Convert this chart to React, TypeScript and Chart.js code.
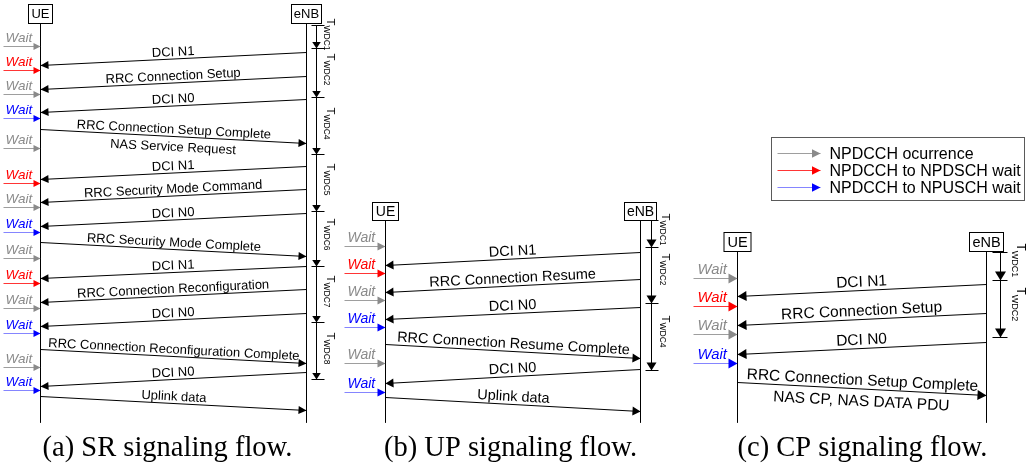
import { useEffect, useRef } from 'react';
import { Chart, registerables } from 'chart.js';

Chart.register(...registerables);

const W = 1032;
const H = 468;

// ---------------- (a) SR signaling flow ----------------
const srMsgLabels = ['DCI N1', 'RRC Connection Setup', 'DCI N0', 'RRC Connection Setup Complete', 'DCI N1', 'RRC Security Mode Command', 'DCI N0', 'RRC Security Mode Complete', 'DCI N1', 'RRC Connection Reconfiguration', 'DCI N0', 'RRC Connection Reconfiguration Complete', 'DCI N0', 'Uplink data'];
const srMsgSub = ['', '', '', 'NAS Service Request', '', '', '', '', '', '', '', '', '', ''];
const srMsgUplink = [0, 0, 0, 1, 0, 0, 0, 1, 0, 0, 0, 1, 0, 1];
const srMsgEnbT = [52, 76, 99, 143, 166, 189, 213, 256, 266, 289, 313, 363, 372, 410];
const srMsgUeT = [65, 89, 112, 129, 179, 202, 226, 242, 278, 302, 326, 349, 386, 396];
const srWaitT = [46, 70, 94, 118, 148, 183, 207, 232, 258, 283, 308, 333, 367, 390];
const srWaitKind = [0, 1, 0, 2, 0, 1, 0, 2, 0, 1, 0, 2, 0, 2];
const srTimerT = [25, 48, 97, 154, 211, 266, 322, 379];
const srTimerNames = ['WDC1', 'WDC2', 'WDC4', 'WDC5', 'WDC6', 'WDC7', 'WDC8'];
const srTimerLabelT = [18, 53, 107, 163, 218, 275, 332];

// ---------------- (b) UP signaling flow ----------------
const upMsgLabels = ['DCI N1', 'RRC Connection Resume', 'DCI N0', 'RRC Connection Resume Complete', 'DCI N0', 'Uplink data'];
const upMsgSub = ['', '', '', '', '', ''];
const upMsgUplink = [0, 0, 0, 1, 0, 1];
const upMsgEnbT = [252, 279, 307, 358, 369, 411];
const upMsgUeT = [265, 292, 319, 344, 383, 397];
const upWaitT = [246, 273, 300, 327, 363, 392];
const upWaitKind = [0, 1, 0, 2, 0, 2];
const upTimerT = [220, 247, 303, 370];
const upTimerNames = ['WDC1', 'WDC2', 'WDC4'];
const upTimerLabelT = [213, 253, 315];

// ---------------- (c) CP signaling flow ----------------
const cpMsgLabels = ['DCI N1', 'RRC Connection Setup', 'DCI N0', 'RRC Connection Setup Complete'];
const cpMsgSub = ['', '', '', 'NAS CP, NAS DATA PDU'];
const cpMsgUplink = [0, 0, 0, 1];
const cpMsgEnbT = [284, 313, 342, 395];
const cpMsgUeT = [296, 325, 354, 382];
const cpWaitT = [278, 306, 334, 363];
const cpWaitKind = [0, 1, 0, 2];
const cpTimerT = [252, 280, 337];
const cpTimerNames = ['WDC1', 'WDC2'];
const cpTimerLabelT = [243, 287];

// ---------------- legend / captions ----------------
const legendLabels = ['NPDCCH ocurrence', 'NPDCCH to NPDSCH wait', 'NPDCCH to NPUSCH wait'];
const captions = ['(a) SR signaling flow.', '(b) UP signaling flow.', '(c) CP signaling flow.'];
const entityNames = ['UE', 'eNB'];
const waitWord = 'Wait';

// ---------------- styles / layout ----------------
const SANS = '"Liberation Sans", Arial, Helvetica, sans-serif';
const SERIF = '"Liberation Serif", "Times New Roman", serif';
const kindLine = ['#9e9e9e', '#ff3535', '#8585ff'];
const kindHead = ['#8a8a8a', '#ff0000', '#0000ff'];
const kindText = ['#8a8a8a', '#ff0000', '#0000ff'];

const panelData = [
  { labels: srMsgLabels, sub: srMsgSub, uplink: srMsgUplink, enbT: srMsgEnbT, ueT: srMsgUeT, waitT: srWaitT, waitKind: srWaitKind, timerT: srTimerT, timerNames: srTimerNames, timerLabelT: srTimerLabelT },
  { labels: upMsgLabels, sub: upMsgSub, uplink: upMsgUplink, enbT: upMsgEnbT, ueT: upMsgUeT, waitT: upWaitT, waitKind: upWaitKind, timerT: upTimerT, timerNames: upTimerNames, timerLabelT: upTimerLabelT },
  { labels: cpMsgLabels, sub: cpMsgSub, uplink: cpMsgUplink, enbT: cpMsgEnbT, ueT: cpMsgUeT, waitT: cpWaitT, waitKind: cpWaitKind, timerT: cpTimerT, timerNames: cpTimerNames, timerLabelT: cpTimerLabelT },
];

const panelLayout = [
  { ueX: 40, enbX: 306, timerX: 316, waitX0: 3, waitTextX: 5, boxTop: 4, boxBottom: 23, ueBoxW: 24, enbBoxW: 30, lifeEnd: 422,
    msgFont: 13, msgLift: 3, subDrop: 14.5, waitFont: 13.5, waitLift: 5, boxFont: 13, msgHead: [8, 8], waitHead: [7, 7], timerHead: [6.5, 8.5],
    tickL: 5, tickR: 8, tFont: 11.5, subFont: 8.5, tBase: 10, sBase: 7, captionX: 167 },
  { ueX: 385, enbX: 640, timerX: 651, waitX0: 344, waitTextX: 347, boxTop: 202, boxBottom: 220, ueBoxW: 26, enbBoxW: 32, lifeEnd: 422,
    msgFont: 14.5, msgLift: 3.5, subDrop: 16, waitFont: 14, waitLift: 4.5, boxFont: 14, msgHead: [8, 9], waitHead: [8, 8], timerHead: [8, 10],
    tickL: 6, tickR: 7, tFont: 11.5, subFont: 8.5, tBase: 10, sBase: 8, captionX: 510 },
  { ueX: 737, enbX: 986, timerX: 1000, waitX0: 693, waitTextX: 697, boxTop: 232, boxBottom: 251, ueBoxW: 27, enbBoxW: 34, lifeEnd: 422,
    msgFont: 15.5, msgLift: 4, subDrop: 17, waitFont: 14.8, waitLift: 4.5, boxFont: 14.5, msgHead: [9, 10], waitHead: [9, 10], timerHead: [9, 11],
    tickL: 8, tickR: 7, tFont: 12, subFont: 9, tBase: 16, sBase: 11, captionX: 862 },
];

const legendLayout = { x0: 771, y0: 137, x1: 1024, y1: 200, arrowX0: 777, arrowX1: 820, textX: 829, rowT: [153, 170, 187], font: 16, head: [8.5, 8.5] };
const captionY = 455;

function seg(x0: number, y0: number, x1: number, y1: number, color: string, extra: any = {}) {
  return {
    data: [{ x: x0, y: y0 }, { x: x1, y: y1 }],
    showLine: true,
    borderColor: color,
    backgroundColor: color,
    borderWidth: 1,
    pointRadius: 0,
    pointHoverRadius: 0,
    pointHitRadius: 0,
    fill: false,
    tension: 0,
    clip: false,
    ...extra,
  };
}

function buildScene() {
  const datasets: any[] = [];
  const boxes: any[] = [];
  const texts: any[] = [];
  const timerLabels: any[] = [];

  panelData.forEach((d, p) => {
    const L = panelLayout[p];
    datasets.push(seg(L.ueX, L.boxBottom, L.ueX, L.lifeEnd, '#000'));
    datasets.push(seg(L.enbX, L.boxBottom, L.enbX, L.lifeEnd, '#000'));
    boxes.push({ cx: L.ueX, top: L.boxTop, bottom: L.boxBottom, w: L.ueBoxW, text: entityNames[0], font: L.boxFont });
    boxes.push({ cx: L.enbX, top: L.boxTop, bottom: L.boxBottom, w: L.enbBoxW, text: entityNames[1], font: L.boxFont });

    d.labels.forEach((lab, i) => {
      const extra = {
        head: { len: L.msgHead[0], wid: L.msgHead[1], color: '#000' },
        msg: { text: lab, sub: d.sub[i], font: L.msgFont, lift: L.msgLift, drop: L.subDrop },
      };
      if (d.uplink[i]) datasets.push(seg(L.ueX, d.ueT[i], L.enbX, d.enbT[i], '#000', extra));
      else datasets.push(seg(L.enbX, d.enbT[i], L.ueX, d.ueT[i], '#000', extra));
    });

    d.waitT.forEach((t, i) => {
      const k = d.waitKind[i];
      datasets.push(seg(L.waitX0, t, L.ueX, t, kindLine[k], { head: { len: L.waitHead[0], wid: L.waitHead[1], color: kindHead[k] } }));
      texts.push({ x: L.waitTextX, y: t - L.waitLift, text: waitWord, font: `italic ${L.waitFont}px ${SANS}`, color: kindText[k], align: 'left' });
    });

    d.timerT.forEach((t, i) => {
      datasets.push(seg(L.timerX - L.tickL, t, L.timerX + L.tickR, t, '#000'));
      if (i < d.timerT.length - 1) {
        datasets.push(seg(L.timerX, t, L.timerX, d.timerT[i + 1], '#000', { head: { len: L.timerHead[0], wid: L.timerHead[1], color: '#000' } }));
      }
    });
    d.timerNames.forEach((n, i) => {
      timerLabels.push({ x: L.timerX, y: d.timerLabelT[i], name: n, tFont: L.tFont, subFont: L.subFont, tBase: L.tBase, sBase: L.sBase });
    });

    texts.push({ x: L.captionX, y: captionY, text: captions[p], font: `28.5px ${SERIF}`, color: '#000', align: 'center' });
  });

  legendLabels.forEach((lab, i) => {
    const t = legendLayout.rowT[i];
    datasets.push(seg(legendLayout.arrowX0, t, legendLayout.arrowX1, t, kindLine[i], { head: { len: legendLayout.head[0], wid: legendLayout.head[1], color: kindHead[i] } }));
    texts.push({ x: legendLayout.textX, y: t + 5, text: lab, font: `${legendLayout.font}px ${SANS}`, color: '#000', align: 'left' });
  });

  return { datasets, boxes, texts, timerLabels };
}

export default function App() {
  const ref = useRef<HTMLCanvasElement | null>(null);

  useEffect(() => {
    document.body.style.margin = '0';
    document.body.style.background = '#fff';
    const canvas = ref.current;
    if (!canvas) return;
    const scene = buildScene();

    const plugin = {
      id: 'seqDiagram',
      beforeDraw(chart: any) {
        const ctx = chart.ctx as CanvasRenderingContext2D;
        ctx.save();
        ctx.fillStyle = '#fff';
        ctx.fillRect(0, 0, chart.width, chart.height);
        ctx.restore();
      },
      afterDatasetsDraw(chart: any) {
        const ctx = chart.ctx as CanvasRenderingContext2D;
        const sx = chart.scales.x;
        const sy = chart.scales.y;
        const px = (v: number) => sx.getPixelForValue(v);
        const py = (v: number) => sy.getPixelForValue(v);
        ctx.save();

        chart.data.datasets.forEach((ds: any, i: number) => {
          const pts = chart.getDatasetMeta(i).data as any[];
          if (!pts || pts.length < 2) return;
          const a = pts[0];
          const b = pts[pts.length - 1];
          if (ds.head) {
            const dx = b.x - a.x;
            const dy = b.y - a.y;
            const len = Math.hypot(dx, dy) || 1;
            const ux = dx / len;
            const uy = dy / len;
            const nx = -uy;
            const ny = ux;
            const { len: hl, wid, color } = ds.head;
            ctx.beginPath();
            ctx.moveTo(b.x, b.y);
            ctx.lineTo(b.x - ux * hl + (nx * wid) / 2, b.y - uy * hl + (ny * wid) / 2);
            ctx.lineTo(b.x - ux * hl - (nx * wid) / 2, b.y - uy * hl - (ny * wid) / 2);
            ctx.closePath();
            ctx.fillStyle = color;
            ctx.fill();
          }
          if (ds.msg) {
            const left = a.x < b.x ? a : b;
            const right = a.x < b.x ? b : a;
            const ang = Math.atan2(right.y - left.y, right.x - left.x);
            const cx = (a.x + b.x) / 2;
            const cy = (a.y + b.y) / 2;
            ctx.save();
            ctx.translate(cx, cy);
            ctx.rotate(ang);
            ctx.fillStyle = '#000';
            ctx.textAlign = 'center';
            ctx.textBaseline = 'alphabetic';
            ctx.font = `${ds.msg.font}px ${SANS}`;
            ctx.fillText(ds.msg.text, 0, -ds.msg.lift);
            if (ds.msg.sub) ctx.fillText(ds.msg.sub, 0, ds.msg.drop);
            ctx.restore();
          }
        });

        scene.boxes.forEach((bx: any) => {
          const x0 = px(bx.cx) - bx.w / 2;
          const y0 = py(bx.top);
          const h = py(bx.bottom) - y0;
          ctx.fillStyle = '#fff';
          ctx.fillRect(x0, y0, bx.w, h);
          ctx.strokeStyle = '#000';
          ctx.lineWidth = 1;
          ctx.strokeRect(x0, y0, bx.w, h);
          ctx.fillStyle = '#000';
          ctx.font = `${bx.font}px ${SANS}`;
          ctx.textAlign = 'center';
          ctx.textBaseline = 'middle';
          ctx.fillText(bx.text, px(bx.cx), y0 + h / 2 + 0.5);
        });

        scene.timerLabels.forEach((tl: any) => {
          ctx.save();
          ctx.translate(px(tl.x + tl.tBase), py(tl.y));
          ctx.rotate(Math.PI / 2);
          ctx.fillStyle = '#000';
          ctx.textAlign = 'left';
          ctx.textBaseline = 'alphabetic';
          ctx.font = `${tl.tFont}px ${SANS}`;
          ctx.fillText('T', 0, 0);
          const tw = ctx.measureText('T').width;
          ctx.font = `${tl.subFont}px ${SANS}`;
          ctx.fillText(tl.name, tw, tl.tBase - tl.sBase);
          ctx.restore();
        });

        ctx.strokeStyle = '#5a5a5a';
        ctx.lineWidth = 1;
        ctx.strokeRect(px(legendLayout.x0), py(legendLayout.y0), px(legendLayout.x1) - px(legendLayout.x0), py(legendLayout.y1) - py(legendLayout.y0));

        scene.texts.forEach((t: any) => {
          ctx.fillStyle = t.color;
          ctx.font = t.font;
          ctx.textAlign = t.align;
          ctx.textBaseline = 'alphabetic';
          ctx.fillText(t.text, px(t.x), py(t.y));
        });

        ctx.restore();
      },
    };

    const chart = new Chart(canvas, {
      type: 'scatter',
      data: { datasets: scene.datasets },
      options: {
        animation: false,
        responsive: false,
        devicePixelRatio: 1,
        events: [],
        layout: { padding: 0, autoPadding: false },
        plugins: { legend: { display: false }, tooltip: { enabled: false }, title: { display: false } },
        scales: {
          x: { type: 'linear', min: -0.5, max: W - 0.5, display: false },
          y: { type: 'linear', min: -0.5, max: H - 0.5, reverse: true, display: false },
        },
      } as any,
      plugins: [plugin as any],
    });
    return () => chart.destroy();
  }, []);

  return <canvas ref={ref} width={W} height={H} style={{ display: 'block', width: W, height: H }} />;
}
